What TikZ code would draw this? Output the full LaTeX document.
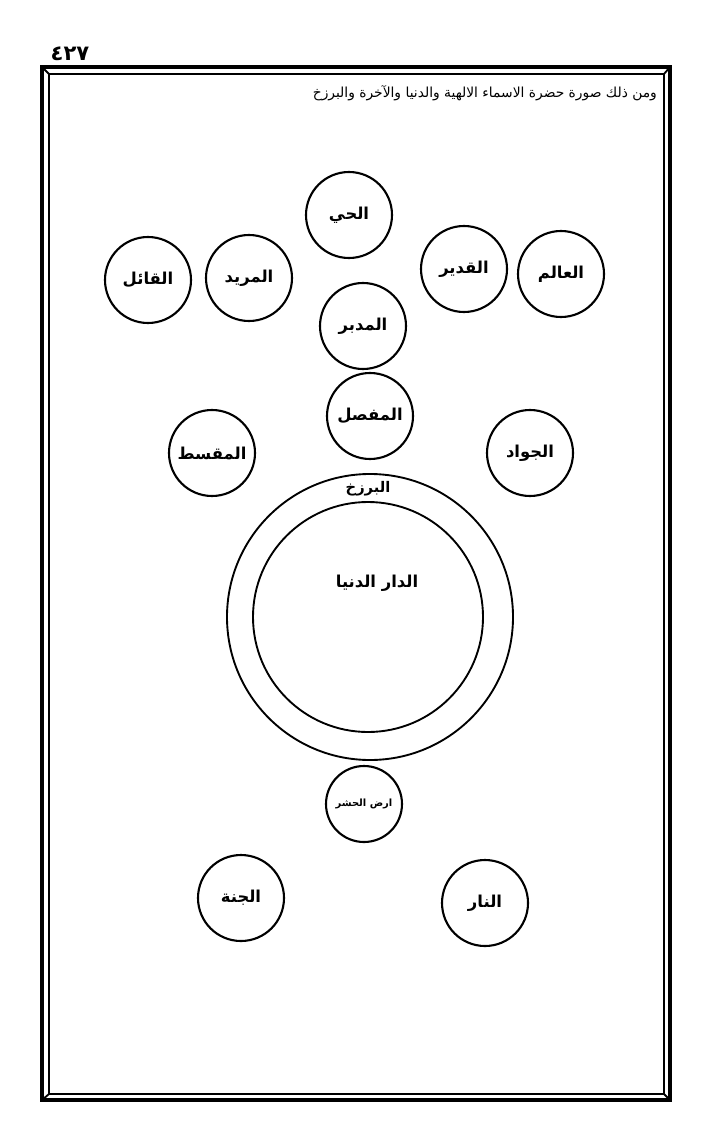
\documentclass[tikz,border=0pt]{standalone}
\usepackage{fontspec}
\TeXXeTstate=1
\newfontfamily\arabicfont[Script=Arabic]{DejaVu Sans}
\newcommand\arTxt[1]{\arabicfont\beginR #1\endR}
\tikzstyle{attribute} = [circle, draw=black, line width=1.8pt, minimum size=25.8mm, inner sep=0pt, font=\bfseries\fontsize{14}{16}\selectfont]
\tikzstyle{smallattribute} = [attribute, minimum size=22.8mm, font=\bfseries\fontsize{8.5}{10}\selectfont]
\tikzstyle{worldring} = [circle, draw=black, line width=1.6pt, inner sep=0pt]
\tikzstyle{pageframe} = [draw=black, line width=1.2mm]
\tikzstyle{innerframe} = [draw=black, line width=0.55mm]

\begin{document}
\begin{tikzpicture}[x=0.3mm, y=-0.3mm]
\useasboundingbox (0,0) rectangle (720,1143);

% Frame of the page
\draw [pageframe] (42,67) rectangle (670,1100);
\draw [innerframe] (49,74) rectangle (664,1094);
\draw [innerframe] (42,67) -- (49,74) (670,67) -- (664,74) (42,1100) -- (49,1094) (670,1100) -- (664,1094);

% Page number and title
\node (pageNo) at (70,54) {\arabicfont\bfseries\fontsize{18}{20}\selectfont ٤٢٧};
\node (title) [anchor=east, font=\fontsize{11.8}{13}\selectfont] at (661,93) {\arTxt{ومن ذلك صورة حضرة الاسماء الالهية والدنيا والآخرة والبرزخ}};

% Placement of the names
\node (hayy) [attribute] at (349,215) {\arTxt{الحي}};
\node (qadir) [attribute] at (464,269) {\arTxt{القدير}};
\node (alim) [attribute] at (561,274) {\arTxt{العالم}};
\node (murid) [attribute] at (249,278) {\arTxt{المريد}};
\node (qail) [attribute] at (148,280) {\arTxt{القائل}};
\node (mudabbir) [attribute] at (363,326) {\arTxt{المدبر}};
\node (mufassil) [attribute] at (370,416) {\arTxt{المفصل}};
\node (muqsit) [attribute] at (212,453) {\arTxt{المقسط}};
\node (jawad) [attribute] at (530,453) {\arTxt{الجواد}};

% Barzakh and the world
\node (barzakh) [worldring, minimum size=85.8mm] at (370,617) {};
\node (dunya) [worldring, minimum size=69mm] at (368,617) {};
\node (barzakhTxt) [font=\bfseries\fontsize{12.5}{14}\selectfont] at (368,489) {\arTxt{البرزخ}};
\node (dunyaTxt) [font=\bfseries\fontsize{14}{16}\selectfont] at (377,583) {\arTxt{الدار الدنيا}};

% Hereafter
\node (hashr) [smallattribute] at (364,804) {\arTxt{ارض الحشر}};
\node (janna) [attribute] at (241,898) {\arTxt{الجنة}};
\node (nar) [attribute] at (485,903) {\arTxt{النار}};

\end{tikzpicture}
\end{document}
